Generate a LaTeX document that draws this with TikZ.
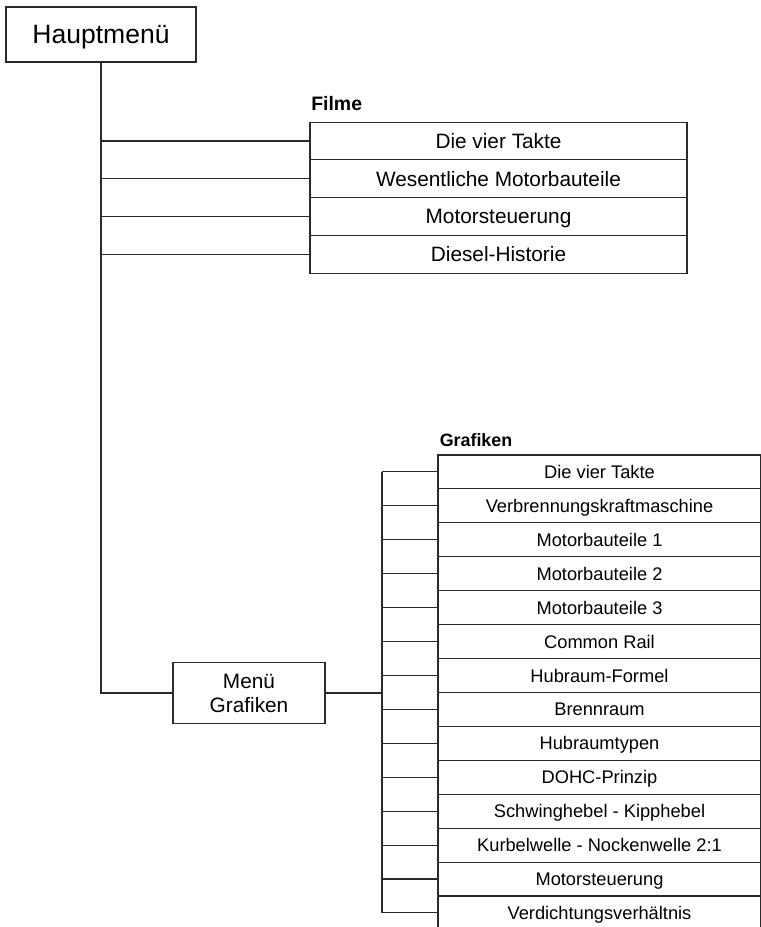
\documentclass[tikz,border=0pt]{standalone}
\usepackage{fontspec}
\setmainfont{Liberation Sans}
\definecolor{lc}{HTML}{2A2A2A}
\begin{document}
\begin{tikzpicture}[x=0.75pt,y=-0.75pt,
  ln/.style={draw=lc, line width=0.8pt},
  mainbox/.style={draw=lc, line width=1.6pt, minimum width=142.5pt, minimum height=41.25pt, inner sep=0pt,
    font=\fontsize{19.9}{24}\selectfont, text height=14.2pt, text depth=0pt},
  filmrow/.style={draw=lc, line width=0.8pt, minimum width=282.75pt, minimum height=28.3pt, inner sep=0pt,
    font=\fontsize{15.6}{18}\selectfont, text height=11.2pt, text depth=0pt},
  grafrow/.style={draw=lc, line width=0.8pt, minimum width=242.25pt, minimum height=25.44pt, inner sep=0pt,
    font=\fontsize{13.7}{16}\selectfont, text height=9.8pt, text depth=0pt},
  menubox/.style={draw=lc, line width=0.8pt, minimum width=114pt, minimum height=45.75pt, inner sep=0pt,
    align=center, font=\fontsize{15.6}{18}\selectfont},
  grouplabel/.style={anchor=base west, inner sep=0pt, font=\bfseries}
]
\useasboundingbox (0,0) rectangle (760,927);

% main menu
\node[mainbox] (haupt) at (101,34.5) {Hauptmenü};

% Filme
\node[grouplabel, font=\bfseries\fontsize{14.6}{17}\selectfont] (filme) at (311,110.7) {Filme};
\node[filmrow] (f1) at (498.5,141) {Die vier Takte};
\node[filmrow] (f2) at (498.5,178.75) {Wesentliche Motorbauteile};
\node[filmrow] (f3) at (498.5,216.5) {Motorsteuerung};
\node[filmrow] (f4) at (498.5,254.25) {Diesel-Historie};

% Menue Grafiken
\node[menubox] (menu) at (249,693) {Menü\\Grafiken};

% Grafiken
\node[grouplabel, font=\bfseries\fontsize{13.4}{16}\selectfont] (grafiken) at (439.5,446) {Grafiken};
\foreach \i/\t in {1/Die vier Takte, 2/Verbrennungskraftmaschine, 3/Motorbauteile 1, 4/Motorbauteile 2,
  5/Motorbauteile 3, 6/Common Rail, 7/Hubraum-Formel, 8/Brennraum, 9/Hubraumtypen, 10/DOHC-Prinzip,
  11/Schwinghebel - Kipphebel, 12/Kurbelwelle - Nockenwelle 2:1, 13/Motorsteuerung, 14/Verdichtungsverhältnis}
  \node[grafrow] (g\i) at (599.5,{471.96+33.92*(\i-1)}) {\t};

% connectors
\draw[ln] (haupt.south) -- (haupt.south |- menu.west) -- (menu.west);
\foreach \i in {1,...,4}
  \draw[ln] (haupt.south |- f\i.west) -- (f\i.west);

\coordinate (gv) at (382,693);
\draw[draw=lc, line width=1.5pt] (menu.east) -- (gv);
\draw[draw=lc, line width=1.2pt] (gv |- g1.west) -- (gv |- g14.west);
\foreach \i in {1,...,14}
  \draw[ln] (gv |- g\i.west) -- (g\i.west);
\end{tikzpicture}
\end{document}
